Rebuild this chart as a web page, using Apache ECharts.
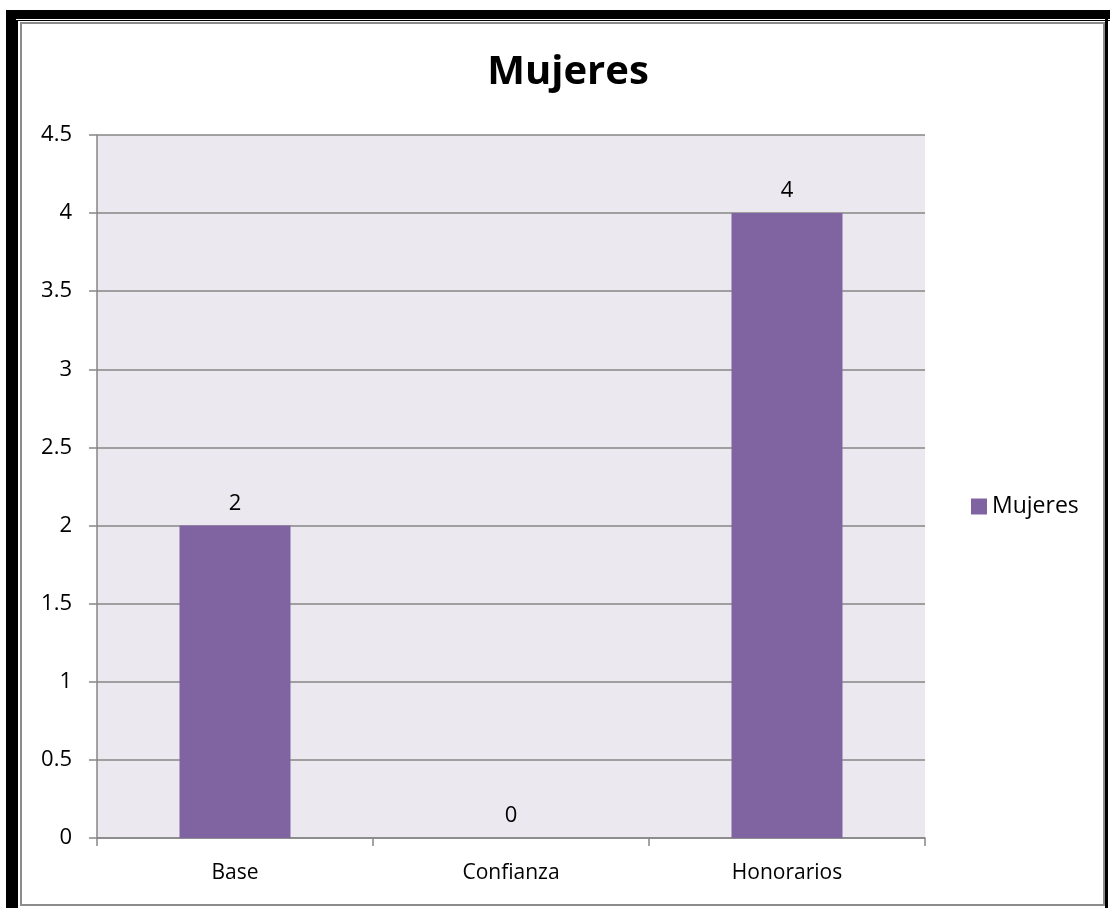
<!DOCTYPE html>
<html><head><meta charset="utf-8">
<script src="https://cdn.jsdelivr.net/npm/echarts@6/dist/echarts.min.js"></script>
<style>
html,body{margin:0;padding:0;background:#fff;}
#wrap{position:relative;width:1110px;height:908px;overflow:hidden;}
#chart{position:absolute;left:0;top:0;width:1110px;height:908px;}
.b{position:absolute;}
</style></head>
<body><div id="wrap">
<div id="chart"></div>
<div class="b" style="left:6px;top:10px;width:10px;height:898px;background:#000"></div>
<div class="b" style="left:6px;top:10px;width:1104px;height:9px;background:#000"></div>
<div class="b" style="left:16px;top:20px;width:2px;height:888px;background:#000"></div>
<div class="b" style="left:16px;top:20px;width:1094px;height:1px;background:#000"></div>
<div class="b" style="left:1105px;top:10px;width:3px;height:898px;background:#000"></div>
<div class="b" style="left:20px;top:22px;width:1081px;height:880px;border:2px solid #8c8c8c"></div>
</div>
<script>
var categories = ['Base', 'Confianza', 'Honorarios'];
var values = [2, 0, 4];
var seriesName = 'Mujeres';
var yTicks = [0, 0.5, 1, 1.5, 2, 2.5, 3, 3.5, 4, 4.5];

var chart = echarts.init(document.getElementById('chart'));
var font = 'Open Sans, Lato, sans-serif';
chart.setOption({
  animation: false,
  title: {
    text: 'Mujeres', left: 563, top: 48, textAlign: 'center',
    textStyle: {fontFamily: font, fontSize: 40, fontWeight: 'bold', color: '#000'}
  },
  legend: {
    data: [seriesName], left: 966, top: 490, orient: 'vertical',
    itemWidth: 16, itemHeight: 16, itemGap: 4,
    icon: 'rect',
    textStyle: {fontFamily: font, fontSize: 23, color: '#000', padding: [0,0,0,0]}
  },
  grid: {left: 97, top: 135, width: 828, height: 703, containLabel: false, show: true, backgroundColor: '#EBE9EF', borderWidth: 0},
  xAxis: {
    type: 'category', data: categories,
    axisLine: {lineStyle: {color: '#868686', width: 1.5}},
    axisTick: {show: true, length: 8, lineStyle: {color: '#868686', width: 1.5}},
    axisLabel: {fontFamily: font, fontSize: 21, color: '#000', margin: 25},
    splitLine: {show: false}
  },
  yAxis: {
    type: 'value', min: 0, max: 4.5, interval: 0.5,
    axisLine: {show: true, lineStyle: {color: '#868686', width: 1.5}},
    axisTick: {show: true, length: 8, lineStyle: {color: '#868686', width: 1.5}},
    axisLabel: {fontFamily: font, fontSize: 22, color: '#000', margin: 25,
      formatter: function (v) { return yTicks.indexOf(v) >= 0 ? String(v) : ''; }},
    splitLine: {show: true, lineStyle: {color: '#868686', width: 1.5}}
  },
  series: [{
    name: seriesName, type: 'bar', data: values,
    barWidth: 111,
    itemStyle: {color: '#8064A2', borderWidth: 0},
    label: {show: true, position: 'top', distance: 11, fontFamily: font, fontSize: 22, color: '#000'}
  }]
});
</script></body></html>
